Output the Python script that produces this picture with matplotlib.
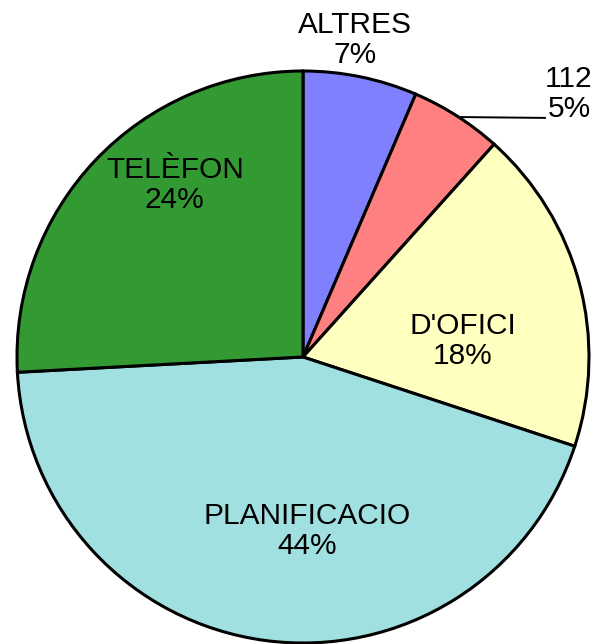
import matplotlib.pyplot as plt

plt.rcParams['font.family'] = ['Liberation Sans', 'DejaVu Sans']

# slice shares as drawn (clockwise from 12 o'clock)
categories = ['ALTRES', '112', "D'OFICI", 'PLANIFICACIO', 'TELÈFON']
values = [6.45, 5.2, 18.4, 44.1, 25.85]
pct_labels = ['7%', '5%', '18%', '44%', '24%']
colors = ['#8080FF', '#FF8080', '#FFFFC0', '#A0E0E0', '#339933']

# label positions in pie-radius units
label_pos = [(0.182, 1.108), (0.930, 0.920), (0.559, 0.056), (0.014, -0.608), (-0.448, 0.601)]

W, H = 596, 644
cx, cy, R = 303, 357, 286

fig = plt.figure(figsize=(W / 100, H / 100), dpi=100)
ax = fig.add_axes([0, 0, 1, 1])
ax.pie(values, colors=colors, startangle=90, counterclock=False,
       wedgeprops=dict(edgecolor='black', linewidth=2.2))
ax.set_aspect('auto')
ax.set_xlim(-cx / R, (W - cx) / R)
ax.set_ylim(-(H - cy) / R, cy / R)
ax.axis('off')

for name, pct, (x, y) in zip(categories, pct_labels, label_pos):
    ax.text(x, y, name + '\n' + pct, ha='center', va='center', fontsize=21.5,
            linespacing=1.1)

# leader line for the small slice
ax.plot([0.542, 0.846], [0.839, 0.836], color='black', lw=1.4)

fig.savefig('out.png', dpi=100)
